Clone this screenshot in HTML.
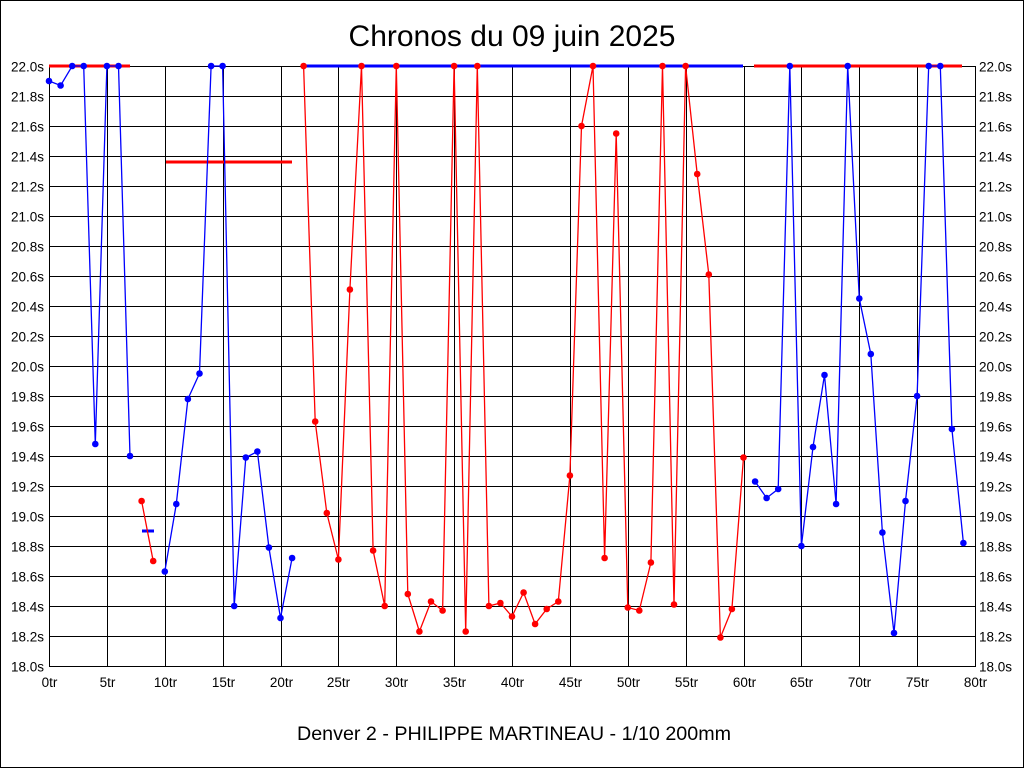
<!DOCTYPE html>
<html><head><meta charset="utf-8"><style>
html,body{margin:0;padding:0;background:#fff;}
svg{display:block;}
text{font-family:"Liberation Sans",Arial,sans-serif;fill:#000;}
</style></head><body>
<svg id="c" width="1024" height="768" xmlns="http://www.w3.org/2000/svg">
<rect x="0.5" y="0.5" width="1023" height="767" fill="#fff" stroke="#000"/>
<text x="512" y="46" font-size="30" text-anchor="middle">Chronos du 09 juin 2025</text>
<text x="514" y="740" font-size="19.7" text-anchor="middle">Denver 2 - PHILIPPE MARTINEAU - 1/10 200mm</text>
<g id="g"></g>
</svg>
<script>
var X0=49,X1=975,Y0=66,Y1=666;
function X(l){return X0+(X1-X0)*l/80;}
function Y(v){return Y0+(22-v)*(Y1-Y0)/4;}
var s='';
for(var i=0;i<=20;i++){var v=18+i*0.2,y=Math.round(Y(v))+0.5;
 s+='<line x1="'+X0+'" y1="'+y+'" x2="'+X1+'" y2="'+y+'" stroke="#000"/>';
 var t=v.toFixed(1)+'s';
 s+='<text x="44" y="'+(y+5)+'" font-size="13.5" text-anchor="end">'+t+'</text>';
 s+='<text x="979" y="'+(y+5)+'" font-size="13.5">'+t+'</text>';}
for(var l=0;l<=80;l+=5){var x=Math.round(X(l))+0.5;
 s+='<line x1="'+x+'" y1="'+Y0+'" x2="'+x+'" y2="'+Y1+'" stroke="#000"/>';
 s+='<text x="'+x+'" y="687" font-size="13.5" text-anchor="middle">'+l+'tr</text>';}
s+='<rect x="'+(X0+0.5)+'" y="'+(Y0+0.5)+'" width="'+(X1-X0)+'" height="'+(Y1-Y0)+'" fill="none" stroke="#000"/>';
function hl(a,b,v,c){s+='<line x1="'+a+'" y1="'+Y(v)+'" x2="'+b+'" y2="'+Y(v)+'" stroke="'+c+'" stroke-width="3"/>';}
hl(49,130,22,'#f00');hl(166,292,21.36,'#f00');hl(303,743,22,'#00f');hl(754,962,22,'#f00');
hl(142,154,18.9,'#00f');
var d=[21.90,21.87,22,22,19.48,22,22,19.40,19.10,18.70,18.63,19.08,19.78,19.95,22,22,18.40,19.39,19.43,18.79,18.32,18.72,
22,19.63,19.02,18.71,20.51,22,18.77,18.40,22,18.48,18.23,18.43,18.37,22,18.23,22,18.40,18.42,18.33,18.49,18.28,18.38,18.43,19.27,21.60,22,18.72,21.55,18.39,18.37,18.69,22,18.41,22,21.28,20.61,18.19,18.38,19.39,
19.23,19.12,19.18,22,18.80,19.46,19.94,19.08,22,20.45,20.08,18.89,18.22,19.10,19.80,22,22,19.58,18.82];
var seg=[[0,7,'#00f'],[8,9,'#f00'],[10,21,'#00f'],[22,60,'#f00'],[61,79,'#00f']];
seg.forEach(function(g){var p=[];for(var i=g[0];i<=g[1];i++)p.push(X(i).toFixed(1)+','+Y(d[i]).toFixed(1));
 s+='<polyline points="'+p.join(' ')+'" fill="none" stroke="'+g[2]+'" stroke-width="1.3"/>';
 for(var i=g[0];i<=g[1];i++)s+='<circle cx="'+X(i).toFixed(1)+'" cy="'+Y(d[i]).toFixed(1)+'" r="3.3" fill="'+g[2]+'"/>';});
document.getElementById('g').innerHTML=s;
</script>
</body></html>
